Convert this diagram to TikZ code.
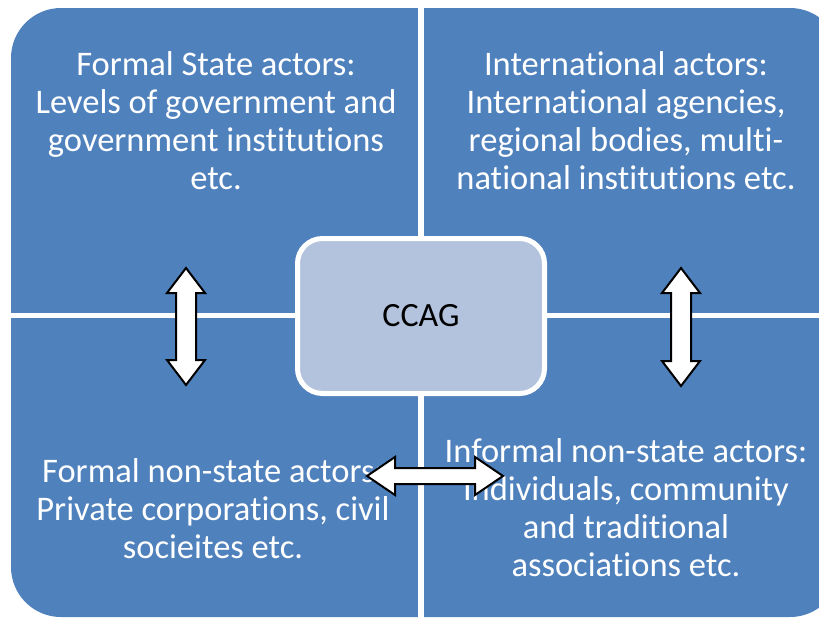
\documentclass[tikz,border=0pt]{standalone}
\usepackage{fontspec}
\setmainfont{Carlito}[RawFeature={-liga;-clig;-calt;-dlig;-rlig}]
\definecolor{qblue}{HTML}{4F81BD}
\definecolor{cfill}{HTML}{B3C3DE}
\begin{document}
\begin{tikzpicture}[x=1pt,y=-1pt,
  qtext/.style={text=white,align=center,anchor=north,inner sep=0pt,font=\fontsize{34.5}{38}\selectfont},
  dblarrow/.style={fill=white,draw=black,line width=2pt,line join=miter}]
\useasboundingbox (0,0) rectangle (819,619);
\clip (0,0) rectangle (819,619);
\fill[white] (0,0) rectangle (819,619);
% quadrants
\fill[qblue,rounded corners=50pt] (11,8) rectangle (840,617);
\fill[white] (418,0) rectangle (424,619);
\fill[white] (0,313) rectangle (840,318);
% texts
\node[qtext] (tl) at (216,51.5) {Formal State actors:\\Levels of government and\\government institutions\\etc.};
\node[qtext] (tr) at (626,51.5) {International actors:\\International agencies,\\regional bodies, multi-\\national institutions etc.};
\node[qtext] (bl) at (213,458.5) {Formal non-state actors:\\Private corporations, civil\\socieites etc.};
\node[qtext] (br) at (626,438.5) {Informal non-state actors:\\Individuals, community\\and traditional\\associations etc.};
% centre
\node[draw=white,line width=5pt,fill=cfill,rounded corners=25pt,minimum width=247pt,minimum height=155pt,
  font=\fontsize{34}{38}\selectfont,text=black] (ccag) at (421,316) {CCAG};
% arrows
\draw[dblarrow] (186,268) -- (205,293) -- (196,293) -- (196,360) -- (205,360) -- (186,385)
  -- (167,360) -- (176,360) -- (176,293) -- (167,293) -- cycle;
\draw[dblarrow] (681,268) -- (700,293) -- (691,293) -- (691,361) -- (700,361) -- (681,386)
  -- (662,361) -- (671,361) -- (671,293) -- (662,293) -- cycle;
\draw[dblarrow] (367,476) -- (395,457) -- (395,468) -- (475,468) -- (475,457) -- (503,476)
  -- (475,495) -- (475,484) -- (395,484) -- (395,495) -- cycle;
\end{tikzpicture}
\end{document}
